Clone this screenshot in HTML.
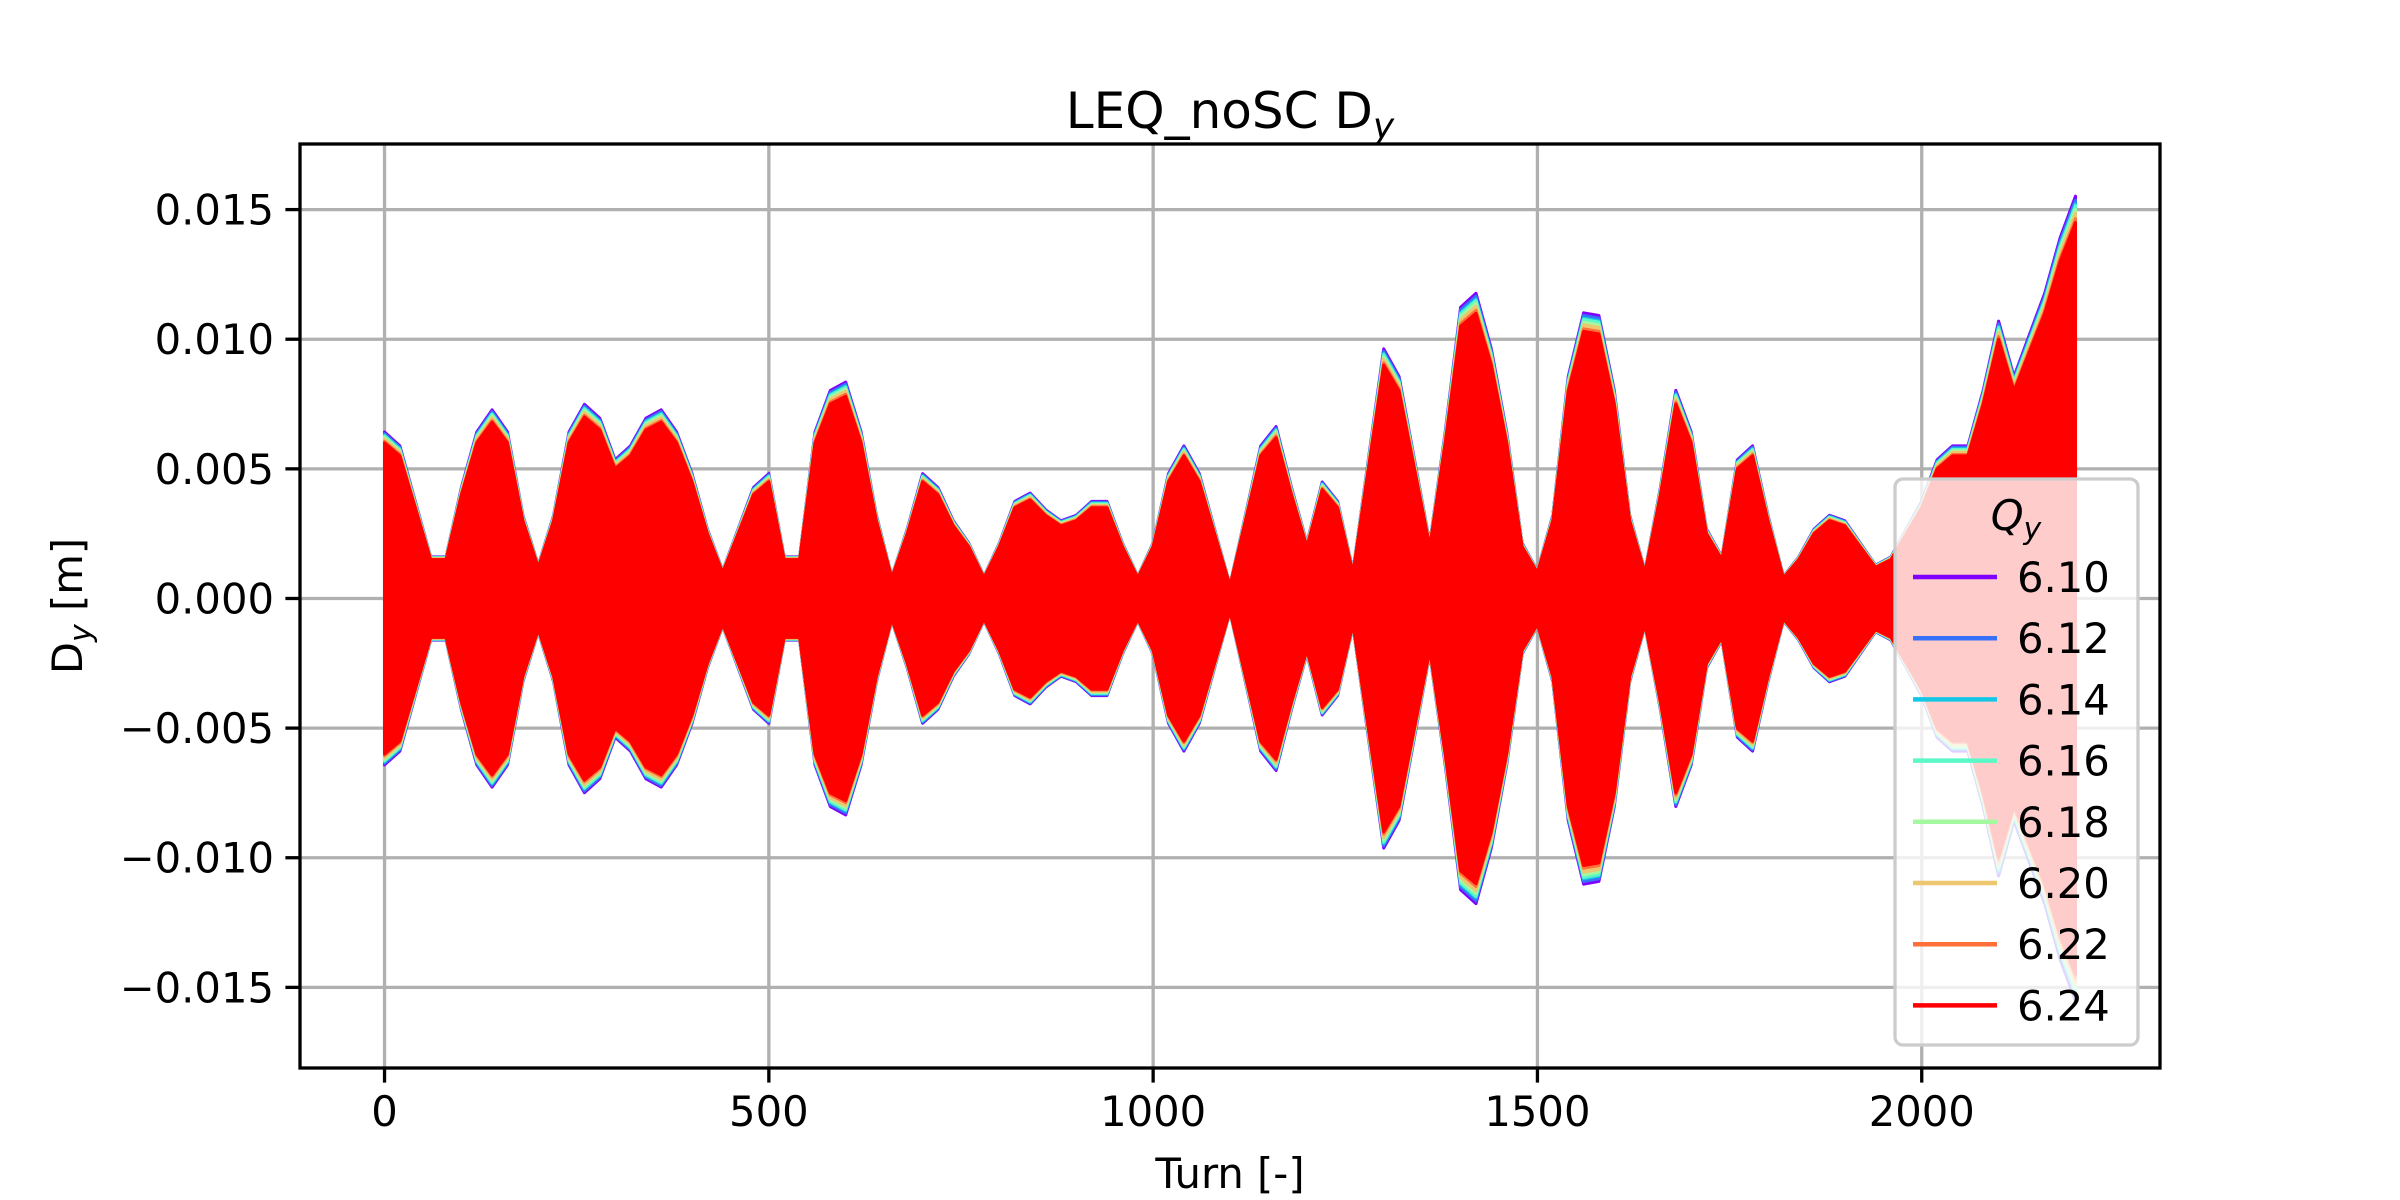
<!DOCTYPE html>
<html><head><meta charset="utf-8"><style>
html,body{margin:0;padding:0;background:#fff;}
svg{display:block;font-family:"DejaVu Sans","Liberation Sans",sans-serif;}
</style></head><body>
<svg id="chart" width="2400" height="1200" viewBox="0 0 2400 1200" xmlns="http://www.w3.org/2000/svg">
<defs><clipPath id="plotclip"><rect x="300" y="144" width="1860" height="924"/></clipPath></defs>
<rect x="0" y="0" width="2400" height="1200" fill="#fff"/>
<g id="grid"></g>
<g id="series" clip-path="url(#plotclip)"></g>
<rect x="300" y="144" width="1860" height="924" fill="none" stroke="#000" stroke-width="3.3"/>
<g id="ticks"></g>
<text x="1230" y="128" font-size="50" text-anchor="middle">LEQ_noSC D<tspan font-style="italic" font-size="36" dy="10">y</tspan></text>
<text x="1230" y="1188" font-size="41.7" text-anchor="middle">Turn [-]</text>
<text transform="translate(82,606) rotate(-90)" font-size="41.7" text-anchor="middle">D<tspan font-style="italic" font-size="30" dy="9">y</tspan><tspan dy="-9"> [m]</tspan></text>
<g id="legend"></g>
</svg>
<script>
const turns = [];
for (let t = 0; t <= 2200; t += 20) turns.push(t);
const envelope = [6,5.5,3.5,1.5,1.5,4,6,6.8,6,3,1.2,3,6,7,6.5,5,5.5,6.5,6.8,6,4.5,2.5,1,2.5,4,4.5,1.5,1.5,6,7.5,7.8,6,3,0.8,2.5,4.5,4,2.8,2,0.8,2,3.5,3.8,3.2,2.8,3,3.5,3.5,2,0.8,2,4.5,5.5,4.5,2.5,0.5,3,5.5,6.2,4,2,4.2,3.5,1,5,9,8,5,2,6,10.5,11,9,6,2,1,3,8,10.3,10.2,7.5,3,1,4,7.5,6,2.5,1.5,5,5.5,3,0.8,1.5,2.5,3,2.8,2,1.2,1.5,2.5,3.5,5,5.5,5.5,7.5,10,8,9.5,11,13,14.5];
const seriesLabels = ["6.10","6.12","6.14","6.16","6.18","6.20","6.22","6.24"];
const seriesScale = [1.07,1.06,1.05,1.045,1.035,1.025,1.01,1.0];
const seriesColors = ["#8000ff","#3770f9","#12c7e6","#5bf8c7","#a4f89f","#edc76f","#ff6f39","#ff0000"];
const xTicks = [0,500,1000,1500,2000];
const yTicks = [-0.015,-0.010,-0.005,0,0.005,0.010,0.015];
const yTickLabels = ["\u22120.015","\u22120.010","\u22120.005","0.000","0.005","0.010","0.015"];

const NS = "http://www.w3.org/2000/svg";
const X0=300,X1=2160,Y0=144,Y1=1068;
const xMin=-110,xMax=2310,yMin=-0.01811,yMax=0.01753;
const xs = v => X0 + (v - xMin) / (xMax - xMin) * (X1 - X0);
const ys = v => Y1 - (v - yMin) / (yMax - yMin) * (Y1 - Y0);
function mk(tag, attrs, parent){const e=document.createElementNS(NS,tag);for(const k in attrs)e.setAttribute(k,attrs[k]);parent.appendChild(e);return e;}

const grid=document.getElementById('grid'), ticks=document.getElementById('ticks');
xTicks.forEach(v=>{
  const g=mk('line',{x1:xs(v),x2:xs(v),y1:Y0,y2:Y1,stroke:'#b0b0b0','stroke-width':3.3},grid);
  
  
  const t=mk('line',{x1:xs(v),x2:xs(v),y1:Y1,y2:Y1+14.6,stroke:'#000','stroke-width':3.3},ticks);
  
  
  const l=mk('text',{x:xs(v),y:Y1+58,'font-size':41.7,'text-anchor':'middle'},ticks);
  l.textContent=String(v);
  
  
});
yTicks.forEach((v,i)=>{
  const g=mk('line',{x1:X0,x2:X1,y1:ys(v),y2:ys(v),stroke:'#b0b0b0','stroke-width':3.3},grid);
  
  
  const t=mk('line',{x1:X0-14.6,x2:X0,y1:ys(v),y2:ys(v),stroke:'#000','stroke-width':3.3},ticks);
  
  
  const l=mk('text',{x:X0-26,y:ys(v)+15,'font-size':41.7,'text-anchor':'end'},ticks);
  l.textContent=yTickLabels[i];
  
  
});

const sg=document.getElementById('series');
seriesLabels.forEach((lab,si)=>{
  let top=[],bot=[];
  turns.forEach((t,i)=>{
    const a=envelope[i]*seriesScale[si]*0.001;
    top.push(xs(t).toFixed(1)+','+ys(a).toFixed(1));
    bot.push(xs(t).toFixed(1)+','+ys(-a).toFixed(1));
  });
  const p=mk('polygon',{points:top.concat(bot.reverse()).join(' '),fill:seriesColors[si],stroke:seriesColors[si],'stroke-width':3,'stroke-linejoin':'round'},sg);
  
  
});

const lg=document.getElementById('legend');
const box=mk('rect',{x:1895,y:479,width:243,height:566,rx:8,fill:'rgba(255,255,255,0.8)',stroke:'#cccccc','stroke-width':3.3},lg);


const lt=mk('text',{x:2016,y:530,'font-size':41.7,'text-anchor':'middle','font-style':'italic'},lg);
lt.innerHTML='Q<tspan font-size="30" dy="9">y</tspan>';


seriesLabels.forEach((lab,i)=>{
  const y=577+i*61.2;
  const e=mk('g',{},lg);
  
  
  mk('line',{x1:1913,x2:1997,y1:y,y2:y,stroke:seriesColors[i],'stroke-width':4.5},e);
  const t=mk('text',{x:2017,y:y+15,'font-size':41.7},e);
  t.textContent=lab;
});
</script>
</body></html>
